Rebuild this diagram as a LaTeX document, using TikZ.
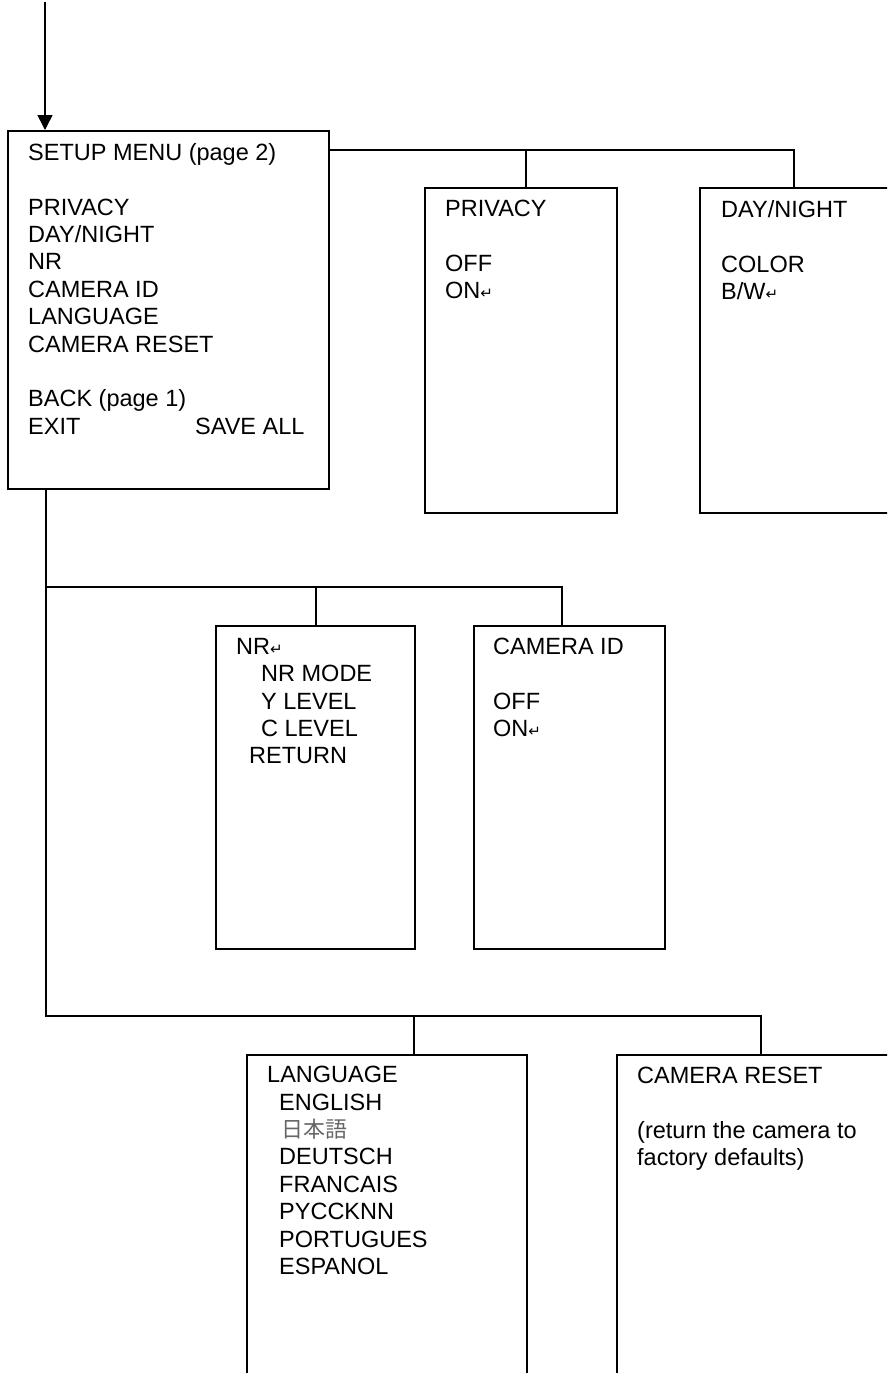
\documentclass[tikz,border=0pt]{standalone}
\usepackage{fontspec}
\setmainfont{Liberation Sans}
\newfontfamily\arrowfont{DejaVu Sans}
\newfontfamily\jpfont{Noto Sans CJK JP}
\usetikzlibrary{arrows.meta}
\newcommand{\enterkey}{{\arrowfont\fontsize{15}{15}\selectfont ↵}}
\newcommand{\blankline}{\\[27.4pt]}

\begin{document}
\begin{tikzpicture}[x=1pt,y=-1pt,
  box/.style={draw,line width=1.8pt,anchor=north west,inner sep=0pt},
  txt/.style={anchor=north west,inner sep=0pt,align=left,font=\fontsize{23.5}{27.4}\selectfont,
    execute at begin node={\rule{0pt}{20pt}}},
  link/.style={line width=1.4pt},
  arr/.style={line width=1.5pt,-{Triangle[length=15pt,width=15pt]}}]
  \clip (0,0) rectangle (887,1373);
  % menu pages
  \node[box,minimum width=321pt,minimum height=358pt] (setup) at (7,130) {};
  \node[box,minimum width=192pt,minimum height=325pt] (privacy) at (424,187) {};
  \node[box,minimum width=230pt,minimum height=325pt] (daynight) at (699,187) {};
  \node[box,minimum width=199pt,minimum height=323pt] (nr) at (215,625) {};
  \node[box,minimum width=191pt,minimum height=323pt] (camid) at (473,625) {};
  \node[box,minimum width=280pt,minimum height=360pt] (language) at (246,1054) {};
  \node[box,minimum width=300pt,minimum height=360pt] (reset) at (616,1054) {};
  % texts (first baseline 33 below the top)
  \node[txt] (setup-t) at ([shift={(21,13)}]setup.north west)
    {SETUP MENU (page 2)\blankline PRIVACY\\DAY/NIGHT\\NR\\CAMERA ID\\LANGUAGE\\CAMERA RESET\blankline
     BACK (page 1)\\\makebox[167pt][l]{EXIT}SAVE ALL};
  \node[txt] (privacy-t) at ([shift={(21,13)}]privacy.north west)
    {PRIVACY\blankline OFF\\ON\enterkey};
  \node[txt] (daynight-t) at ([shift={(22,13)}]daynight.north west)
    {DAY/NIGHT\blankline COLOR\\B/W\enterkey};
  \node[txt] (nr-t) at ([shift={(21,13)}]nr.north west)
    {NR\enterkey\\\hspace*{25pt}NR MODE\\\hspace*{25pt}Y LEVEL\\\hspace*{25pt}C LEVEL\\\hspace*{13pt}RETURN};
  \node[txt] (camid-t) at ([shift={(20,13)}]camid.north west)
    {CAMERA ID\blankline OFF\\ON\enterkey};
  \node[txt] (language-t) at ([shift={(21,12)}]language.north west)
    {LANGUAGE\\\hspace*{12pt}ENGLISH\\\hspace*{14pt}{\jpfont\fontsize{22}{27.4}\selectfont\color{black!60}日本語}\\
     \hspace*{12pt}DEUTSCH\\\hspace*{12pt}FRANCAIS\\\hspace*{12pt}PYCCKNN\\\hspace*{12pt}PORTUGUES\\\hspace*{12pt}ESPANOL};
  \node[txt] (reset-t) at ([shift={(21,13)}]reset.north west)
    {CAMERA RESET\blankline (return the camera to\\factory defaults)};
  % entry arrow
  \coordinate (entry) at (45,2);
  \draw[arr] (entry) -- (entry |- setup.north);
  % links to the sub pages
  \coordinate (bus1) at (526,150);
  \coordinate (bus1r) at (794,150);
  \draw[link] (setup.east |- bus1) -- (bus1r) -- (bus1r |- daynight.north);
  \draw[link] (bus1) -- (bus1 |- privacy.north);
  \coordinate (tap1) at (46,587);
  \coordinate (tap2) at (46,1016);
  \coordinate (bus2) at (316,587);
  \coordinate (bus2r) at (562,587);
  \coordinate (bus3) at (414,1016);
  \coordinate (bus3r) at (761,1016);
  \draw[link] (tap1 |- setup.south) -- (tap2) -- (bus3r) -- (bus3r |- reset.north);
  \draw[link] (bus3) -- (bus3 |- language.north);
  \draw[link] (tap1) -- (bus2r) -- (bus2r |- camid.north);
  \draw[link] (bus2) -- (bus2 |- nr.north);
\end{tikzpicture}
\end{document}
